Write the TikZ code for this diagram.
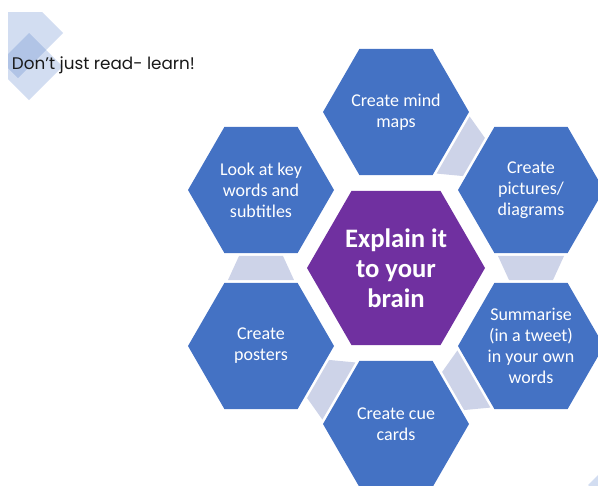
\documentclass[tikz,border=0pt]{standalone}
\usepackage{fontspec}
\setmainfont{Carlito}
\newfontfamily\headfont{Poppins}
\usetikzlibrary{shapes.geometric,calc}

\definecolor{hexblue}{RGB}{68,114,196}
\definecolor{hexpurple}{RGB}{112,48,160}
\definecolor{linkgrey}{RGB}{205,211,232}
\definecolor{headtext}{RGB}{25,25,25}

\tikzset{every picture/.style={line width=0.75pt}}
\tikzset{
	outerhex/.style={regular polygon, regular polygon sides=6, minimum size=109.5pt, inner sep=0pt, fill=hexblue, text=white, align=center, font=\fontsize{13.5}{15.75}\selectfont},
	centrehex/.style={regular polygon, regular polygon sides=6, minimum size=133.5pt, inner sep=0pt, fill=hexpurple, text=white, align=center, font=\fontsize{20}{22.5}\selectfont\bfseries},
	link/.style={fill=linkgrey, draw=none},
	deco/.style={fill=hexblue, fill opacity=0.24, draw=none}
}

\begin{document}
\begin{tikzpicture}[x=0.75pt,y=0.75pt,yscale=-1,xscale=1]
	\useasboundingbox (0,0) rectangle (598,485);

	%Shape: Squares in the corners
	\begin{scope}
		\clip (8,13) rectangle (598,485);
		\fill[deco] (63,33) -- (18,-12) -- (-27,33) -- (18,78) -- cycle ;
		\fill[deco] (62.5,66.5) -- (29,33) -- (-4.5,66.5) -- (29,100) -- cycle ;
		\fill[deco] (588,485) -- (620,453) -- (652,485) -- (620,517) -- cycle ;
	\end{scope}

	% Text Node
	\node[anchor=west, text=headtext, font=\headfont\fontsize{12.6}{14}\selectfont] (title) at (7,65) {Don’t just read- learn!};

	% Hexagons
	\node[centrehex] (brain) at (396,268) {Explain it\\to your\\brain};
	\node[outerhex] (mind) at (396,112) {Create mind\\maps};
	\node[outerhex] (pics) at (531,190) {Create\\pictures/\\diagrams};
	\node[outerhex] (summ) at (531,346) {Summarise\\(in a tweet)\\in your own\\words};
	\node[outerhex] (cue) at (396,424) {Create cue\\cards};
	\node[outerhex] (post) at (261,346) {Create\\posters};
	\node[outerhex] (look) at (261,190) {Look at key\\words and\\subtitles};

	%Shape: Trapezoid mind -> pics
	\fill[link] ($(mind.center)!0.423!(pics.center)!24.75pt!90:(pics.center)$) -- ($(mind.center)!0.423!(pics.center)!24.75pt!-90:(pics.center)$) -- ($(mind.center)!0.577!(pics.center)!16.5pt!-90:(pics.center)$) -- ($(mind.center)!0.577!(pics.center)!16.5pt!90:(pics.center)$) -- cycle ;
	%Shape: Trapezoid pics -> summ
	\fill[link] ($(pics.center)!0.423!(summ.center)!24.75pt!90:(summ.center)$) -- ($(pics.center)!0.423!(summ.center)!24.75pt!-90:(summ.center)$) -- ($(pics.center)!0.577!(summ.center)!16.5pt!-90:(summ.center)$) -- ($(pics.center)!0.577!(summ.center)!16.5pt!90:(summ.center)$) -- cycle ;
	%Shape: Trapezoid summ -> cue
	\fill[link] ($(summ.center)!0.423!(cue.center)!24.75pt!90:(cue.center)$) -- ($(summ.center)!0.423!(cue.center)!24.75pt!-90:(cue.center)$) -- ($(summ.center)!0.577!(cue.center)!16.5pt!-90:(cue.center)$) -- ($(summ.center)!0.577!(cue.center)!16.5pt!90:(cue.center)$) -- cycle ;
	%Shape: Trapezoid cue -> post
	\fill[link] ($(cue.center)!0.423!(post.center)!24.75pt!90:(post.center)$) -- ($(cue.center)!0.423!(post.center)!24.75pt!-90:(post.center)$) -- ($(cue.center)!0.577!(post.center)!16.5pt!-90:(post.center)$) -- ($(cue.center)!0.577!(post.center)!16.5pt!90:(post.center)$) -- cycle ;
	%Shape: Trapezoid post -> look
	\fill[link] ($(post.center)!0.423!(look.center)!24.75pt!90:(look.center)$) -- ($(post.center)!0.423!(look.center)!24.75pt!-90:(look.center)$) -- ($(post.center)!0.577!(look.center)!16.5pt!-90:(look.center)$) -- ($(post.center)!0.577!(look.center)!16.5pt!90:(look.center)$) -- cycle ;

\end{tikzpicture}
\end{document}
